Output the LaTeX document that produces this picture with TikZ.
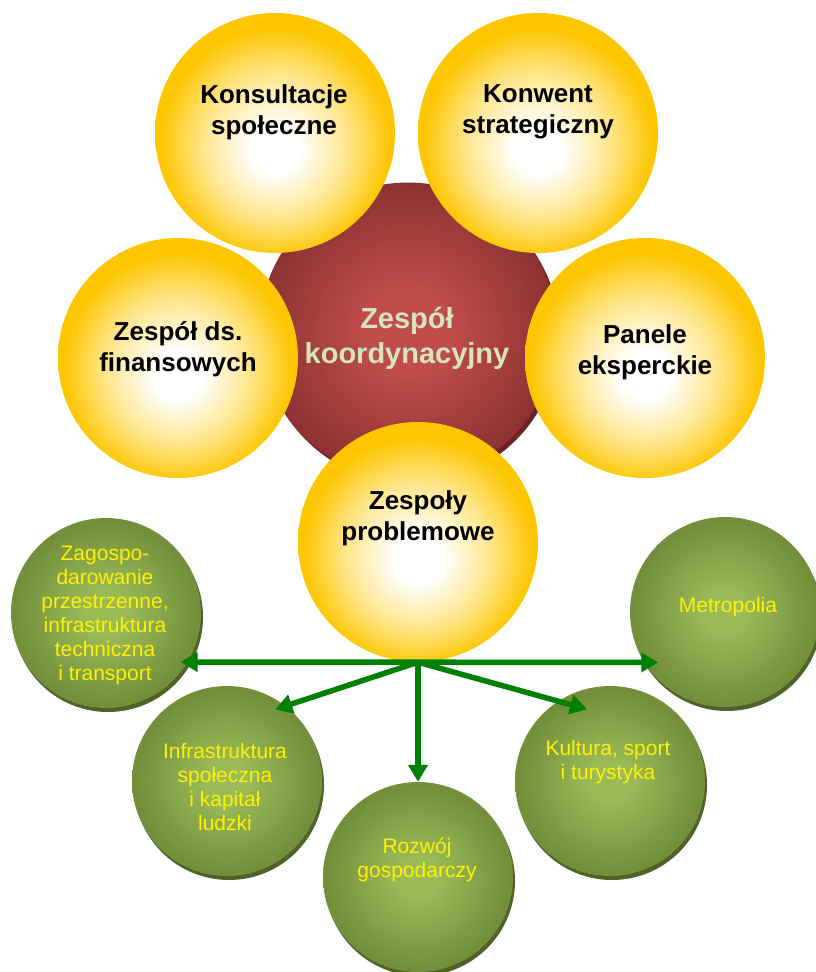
\documentclass[tikz,border=0pt]{standalone}
\usepackage{fontspec}
\setmainfont{Liberation Sans}
\usetikzlibrary{arrows.meta,shadows}

\definecolor{ballgold}{HTML}{FDC600}
\definecolor{ballmid}{HTML}{FFE68C}
\definecolor{leafhi}{HTML}{9BBB59}
\definecolor{leaflo}{HTML}{738F3B}
\definecolor{leafsh}{HTML}{4F6228}
\definecolor{corehi}{HTML}{BF4D4B}
\definecolor{corelo}{HTML}{8C3232}
\definecolor{coresh}{HTML}{6A2222}
\definecolor{corefont}{HTML}{D7E4BD}
\definecolor{linkgreen}{HTML}{008000}

\pgfdeclareradialshading{sunball}{\pgfpoint{0bp}{-4bp}}{color(0bp)=(white); color(5bp)=(white); color(15bp)=(ballmid); color(24bp)=(ballgold); color(50bp)=(ballgold)}
\pgfdeclareradialshading{leafball}{\pgfpoint{0bp}{0bp}}{color(0bp)=(leafhi); color(5bp)=(leafhi); color(24bp)=(leaflo); color(50bp)=(leaflo)}
\pgfdeclareradialshading{coreball}{\pgfpoint{0bp}{0bp}}{color(0bp)=(corehi); color(7bp)=(corehi); color(25bp)=(corelo); color(50bp)=(corelo)}

\begin{document}
\begin{tikzpicture}[x=1pt,y=-1pt,
  ball/.style={circle,inner sep=0pt,minimum size=240pt,shading=sunball},
  core/.style={circle,inner sep=0pt,minimum size=297pt,shading=coreball,
    drop shadow={shadow xshift=3pt,shadow yshift=-4pt,fill=coresh,opacity=1}},
  leaf/.style={circle,inner sep=0pt,minimum size=190pt,shading=leafball,
    drop shadow={shadow xshift=2pt,shadow yshift=-4pt,fill=leafsh,opacity=1}},
  balltxt/.style={align=center,font=\bfseries\fontsize{26}{31}\selectfont},
  coretxt/.style={align=center,text=corefont,font=\bfseries\fontsize{29}{35}\selectfont},
  leaftxt/.style={align=center,text=yellow,font=\fontsize{21}{24}\selectfont},
  link/.style={-{Triangle[width=19pt,length=17pt]},line width=5.5pt,linkgreen}]

\useasboundingbox (0,0) rectangle (816,972);

% centre
\node[core] (koord) at (408,331) {};
\node[coretxt] (koord-t) at (407,338) {Zespół\\koordynacyjny};

% yellow ring
\node[ball] (kons) at (275,133) {};
\node[ball] (konw) at (538,133) {};
\node[ball] (fin)  at (178,358) {};
\node[ball] (pan)  at (645,358) {};
\node[ball] (zp)   at (418,542) {};

\node[balltxt] (kons-t) at (274,112) {Konsultacje\\społeczne};
\node[balltxt] (konw-t) at (538,112) {Konwent\\strategiczny};
\node[balltxt] (fin-t)  at (178,349) {Zespół ds.\\finansowych};
\node[balltxt] (pan-t)  at (645,352) {Panele\\eksperckie};
\node[balltxt] (zp-t)   at (418,518) {Zespoły\\problemowe};

% green problem teams
\node[leaf] (zag) at (106,613) {};
\node[leaf] (met) at (725,612) {};
\node[leaf] (inf) at (227,781) {};
\node[leaf] (kul) at (610,781) {};
\node[leaf] (roz) at (418,877) {};

\node[leaftxt] (zag-t) at (105,615) {Zagospo-\\darowanie\\przestrzenne,\\infrastruktura\\techniczna\\i transport};
\node[leaftxt] (met-t) at (728,607) {Metropolia};
\node[leaftxt] (inf-t) at (225,787) {Infrastruktura\\społeczna\\i kapitał\\ludzki};
\node[leaftxt] (kul-t) at (608,762) {Kultura, sport\\i turystyka};
\node[leaftxt] (roz-t) at (417,860) {Rozwój\\gospodarczy};

% arrows
\draw[link,shorten >=-7pt]  (zp.south) -- (zag.-31);
\draw[link,shorten >=-14pt] (zp.south) -- (met.212);
\draw[link,shorten >=-11pt] (zp.south) -- (inf.52);
\draw[link,shorten >=-30pt] (zp.south) -- (kul.123);
\draw[link]                 (zp.south) -- (roz.north);

\end{tikzpicture}
\end{document}
